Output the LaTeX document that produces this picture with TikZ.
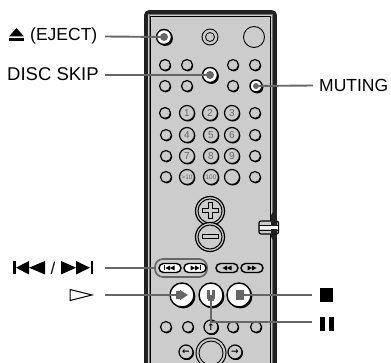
\documentclass[tikz,border=0pt]{standalone}
\usepackage{fontspec}
\setmainfont{Liberation Sans}
\newfontfamily\symfont{DejaVu Sans}
\usetikzlibrary{shadows}
\definecolor{panel}{gray}{0.8}
\definecolor{wallc}{gray}{0.13}
\definecolor{leadc}{gray}{0.4}
\tikzset{
  x=1pt,y=-1pt,
  btn/.style={circle,draw=black,fill=panel,line width=1.2pt,inner sep=0pt,minimum size=#1,
    general shadow={fill=black,shadow xshift=.8pt,shadow yshift=-1pt}},
  hot/.style={btn=#1,fill=white,line width=1.4pt,general shadow={fill=black,shadow xshift=1.4pt,shadow yshift=-1.4pt}},
  plain/.style={circle,draw=black,line width=.9pt,fill=panel,inner sep=0pt,minimum size=#1},
  num/.style={btn=15pt,text=leadc,font=\fontsize{10}{10}\selectfont},
  tiny/.style={btn=15pt,text=leadc,font=\fontsize{6.5}{6.5}\selectfont},
  arrowbtn/.style={btn=12pt,font=\symfont\bfseries\fontsize{9}{9}\selectfont},
  pill/.style={rounded corners=4.5pt,draw=black,fill=white,line width=1.4pt,minimum width=22pt,minimum height=9pt,inner sep=0pt},
  lbl/.style={inner sep=0pt,font=\fontsize{17.5}{17.5}\selectfont,text=black},
  leader/.style={draw=leadc,line width=1.9pt},
  blob/.style={circle,fill=leadc,inner sep=0pt,minimum size=#1},
  sym/.style={fill=black,draw=none,inner sep=0pt},
}
\begin{document}
\begin{tikzpicture}
\useasboundingbox (0,0) rectangle (391,363);
% remote body
\fill[panel] (146,363) -- (146,14) -- (272,14) -- (272,363) -- cycle;
\draw[wallc,line width=3.6pt,rounded corners=3pt] (146,363) -- (146,12) -- (275,12) -- (275,363);
\draw[gray!90!black,line width=1pt] (149,363) -- (149,15) -- (272,15) -- (272,363);
\draw[black,line width=.6pt] (150.3,363) -- (150.3,16.3) -- (270.7,16.3) -- (270.7,363);
% side switch
\fill[wallc] (270.5,216) -- (273,212) -- (273,240) -- (270.5,236) -- cycle;
\draw[black,line width=1.3pt,fill=panel,rounded corners=2pt] (259,221) rectangle (278.5,234);
\fill[white] (260,226) rectangle (278,229.5);
\draw[black,line width=.7pt] (259,225.5) -- (278.5,225.5) (259,230) -- (278.5,230);
\fill[wallc] (271,220.5) rectangle (276.5,234.5);
\fill[white] (271,226) rectangle (276.5,229.5);
% top row
\node[hot=15pt] (bEject) at (164,37) {};
\node[plain=16pt] (bTwo) at (210,37) {};
\node[circle,draw=black,line width=.8pt,minimum size=9pt,inner sep=0pt] (bTwoIn) at (210,37) {};
\node[plain=21pt] (bBig) at (254,37) {};
% small rows
\foreach \n/\x/\y in {a/165/65,b/187/65,c/233/65,d/255/65,e/165/86,f/187/86,g/233/86,
  h/165/113,i/255/113,j/166/135,k/255/135,l/166/156,m/255/156,n/166/177,o/255/177,
  p/166/327,q/188/327,r/233/327,s/256/327}
  \node[btn=11pt] (s\n) at (\x,\y) {};
\node[hot=15pt] (bSkip) at (210,75) {};
\node[hot=12pt] (bMute) at (256,86) {};
% digits
\node[num] (n1) at (187,113) {1};
\node[num] (n2) at (210,113) {2};
\node[num] (n3) at (232,113) {3};
\node[num] (n4) at (187,135) {4};
\node[num] (n5) at (211,135) {5};
\node[num] (n6) at (232,135) {6};
\node[num] (n7) at (187,156) {7};
\node[num] (n8) at (211,156) {8};
\node[num] (n9) at (232,156) {9};
\node[tiny] (n10) at (187,177) {>10};
\node[tiny] (n100) at (211,177) {100};
\node[btn=15pt] (nb) at (232,177) {};
% volume
\node[circle,draw=black,line width=1.2pt,fill=panel,minimum size=29pt,inner sep=0pt] (vPlus) at (210,211) {};
\node[circle,draw=black,line width=1pt,minimum size=24pt,inner sep=0pt] (vPlusIn) at (210,211) {};
\node[circle,draw=black,line width=1.2pt,fill=panel,minimum size=29pt,inner sep=0pt] (vMinus) at (210,237) {};
\node[circle,draw=black,line width=1pt,minimum size=24pt,inner sep=0pt] (vMinusIn) at (210,237) {};
\draw[black,line width=1pt] (208,203) -- (212,203) -- (212,209) -- (218,209) -- (218,213) -- (212,213) -- (212,219) -- (208,219) -- (208,213) -- (202,213) -- (202,209) -- (208,209) -- cycle;
\draw[black,line width=1pt,fill=panel] (202,235) rectangle (218,239);
% skip pills
\node[draw=leadc,line width=1.7pt,rounded corners=8pt,minimum width=52pt,minimum height=18pt,inner sep=0pt] (group) at (181,268) {};
\node[pill] (pPrev) at (170,268) {};
\node[pill] (pNext) at (195,268) {};
\node[pill,fill=panel] (pRew) at (227,268) {};
\node[pill,fill=panel] (pFwd) at (252,268) {};
\foreach \c/\d in {170/-1,195/1,227/-1,252/1}{
  \fill[black] (\c,265.5) -- ++(\d*4.5,2.5) -- ++(-\d*4.5,2.5) -- cycle;
  \fill[black] (\c-\d*4.5,265.5) -- ++(\d*4.5,2.5) -- ++(-\d*4.5,2.5) -- cycle;
}
\fill[black] (164.2,265.5) rectangle (165.2,270.5);
\fill[black] (199.8,265.5) rectangle (200.8,270.5);
% transport
\node[hot=24pt] (bPlay) at (182,295) {};
\node[hot=24pt] (bPause) at (211,295) {};
\node[hot=24pt] (bStop) at (239,295) {};
\fill[leadc] (176,291) rectangle (180,299);
\fill[leadc] (180,290) -- (188,295) -- (180,300) -- cycle;
\fill[leadc] (207,290) rectangle (210,299);
\fill[leadc] (212,290) rectangle (215,299);
\fill[leadc] (208,297) rectangle (214,301);
\fill[leadc] (236,290) rectangle (244,300);
% cursor
\node[arrowbtn,btn=14pt] (aUp) at (211,327) {↑};
\node[arrowbtn,btn=14pt] (aLeft) at (186,352) {←};
\node[arrowbtn,btn=14pt] (aRight) at (235,352) {→};
\node[circle,draw=black,line width=1pt,fill=panel,minimum size=30pt,inner sep=0pt] (jogOut) at (211,353) {};
\node[circle,draw=black,line width=.9pt,minimum size=24pt,inner sep=0pt] (jogIn) at (211,353) {};
% labels
\fill[black] (9,36.5) -- (16.5,28) -- (24,36.5) -- cycle;
\fill[black] (9,37.8) rectangle (24,41);
\node[lbl,anchor=west] (tEject) at (30,35.5) {(EJECT)};
\node[lbl,anchor=west,font=\fontsize{18.5}{18.5}\selectfont] (tSkip) at (7,74.5) {DISC SKIP};
\node[lbl,anchor=west] (tMute) at (319,85) {MUTING};
% prev/next symbols
\node[lbl,anchor=center,font=\fontsize{17}{17}\selectfont] (tSlash) at (53,268) {/};
\fill[black] (13,261) rectangle (15.5,274.5);
\fill[black] (16,267.7) -- (29,261) -- (29,274.5) -- cycle;
\fill[black] (29,267.7) -- (45,261) -- (45,274.5) -- cycle;
\fill[black] (61,261) -- (76,267.7) -- (61,274.5) -- cycle;
\fill[black] (76,261) -- (90,267.7) -- (76,274.5) -- cycle;
\fill[black] (90.5,261) rectangle (93,274.5);
\node[inner sep=0pt,minimum size=0pt] (tPrevNext) at (93,268) {};
% play symbol
\draw[black,line width=1pt] (70,289.5) -- (92,295) -- (70,300.5) -- cycle;
\node[inner sep=0pt,minimum size=0pt] (tPlay) at (93,295) {};
% stop, pause
\node[sym,minimum size=13.5pt] (tStop) at (326.5,295) {};
\node[sym,minimum width=5pt,minimum height=14pt] (tPauseA) at (322.5,324) {};
\node[sym,minimum width=5pt,minimum height=14pt] (tPauseB) at (331,324) {};
% leaders
\coordinate (cEject) at (105,36.5);
\coordinate (cSkip) at (105,75);
\coordinate (cMute) at (313,85.5);
\coordinate (cPrev) at (105,268);
\coordinate (cPlay) at (105,295);
\coordinate (cStop) at (312,295);
\coordinate (cPause) at (312,322);
\coordinate (cElbow) at (211,322);
\draw[leader] (cEject) -- (bEject.center);
\draw[leader] (cSkip) -- (bSkip.center);
\draw[leader] (cMute) -- (bMute.center);
\draw[leader] (cPrev) -- (group.west);
\draw[leader] (cPlay) -- (bPlay.center);
\draw[leader] (cStop) -- (bStop.center);
\draw[leader] (bPause.center) -- (cElbow) -- (cPause);
\node[blob=8pt] (dEject) at (bEject.center) {};
\node[blob=8pt] (dSkip) at (bSkip.center) {};
\node[blob=6pt] (dMute) at (bMute.center) {};
\end{tikzpicture}
\end{document}
